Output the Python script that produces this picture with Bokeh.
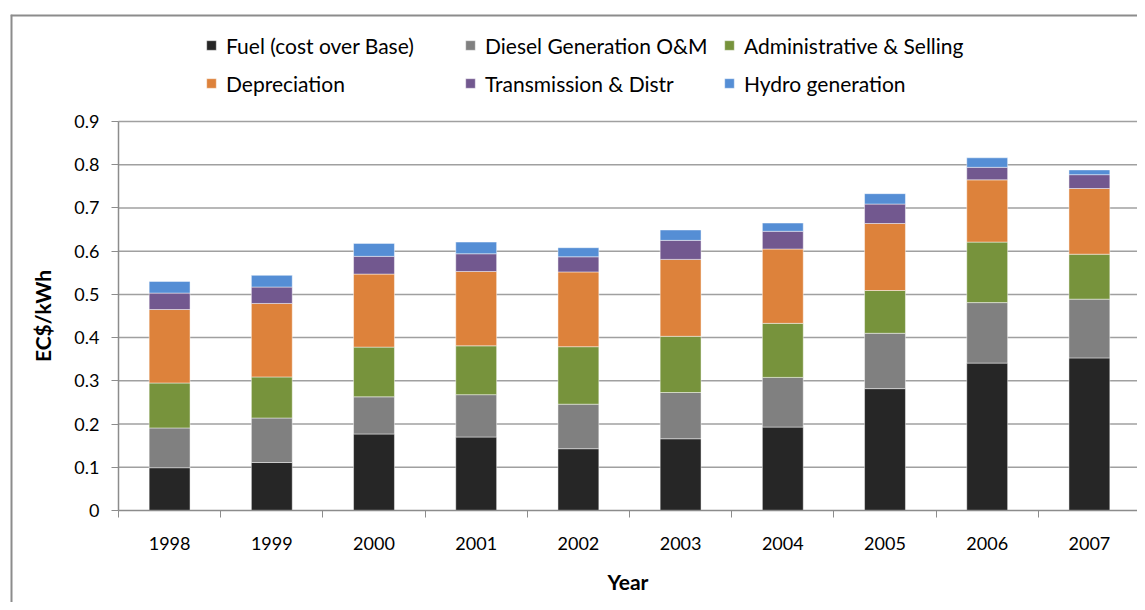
from bokeh.plotting import figure
from bokeh.models import Legend, LegendItem, FixedTicker, ColumnDataSource, Range1d, Span
from bokeh.embed import file_html
from bokeh.resources import INLINE

years = ["1998", "1999", "2000", "2001", "2002", "2003", "2004", "2005", "2006", "2007"]
fuel = [0.099, 0.111, 0.177, 0.170, 0.143, 0.166, 0.193, 0.282, 0.341, 0.353]
diesel = [0.092, 0.103, 0.086, 0.098, 0.103, 0.107, 0.115, 0.128, 0.140, 0.136]
admin = [0.104, 0.095, 0.115, 0.113, 0.133, 0.130, 0.125, 0.099, 0.140, 0.104]
depreciation = [0.170, 0.170, 0.169, 0.172, 0.173, 0.178, 0.172, 0.155, 0.144, 0.152]
transmission = [0.038, 0.038, 0.041, 0.041, 0.035, 0.044, 0.041, 0.045, 0.029, 0.032]
hydro = [0.027, 0.027, 0.030, 0.027, 0.021, 0.024, 0.019, 0.024, 0.022, 0.011]

series_names = ["Fuel (cost over Base)", "Diesel Generation O&M", "Administrative & Selling",
                "Depreciation", "Transmission & Distr", "Hydro generation"]
series_keys = ["fuel", "diesel", "admin", "depreciation", "transmission", "hydro"]
colors = ["#262626", "#808080", "#77933c", "#dd823b", "#72588f", "#558ed5"]
y_ticks = [round(i * 0.1, 1) for i in range(10)]
y_max = 0.9

FONT = "Lato"

# ---- layout (canvas pixels) ----
W, H = 1137, 602                 # canvas size
FL, FT = 10, 14                  # chart-area border (frame left/top)
PLOT_L, PLOT_R = 118, 1140       # plot area x
PLOT_T, PLOT_B = 121, 510        # plot area y
LEG_X, LEG_BOTTOM = 205, 102     # legend left / bottom
n = len(years)
px_per_x = (PLOT_R - PLOT_L) / n
px_per_y = (PLOT_B - PLOT_T) / y_max
x_start = -(PLOT_L - FL) / px_per_x
x_end = (W - PLOT_L) / px_per_x
y_start = -(H - PLOT_B) / px_per_y
y_end = y_max + (PLOT_T - FT) / px_per_y

x = [i + 0.5 for i in range(n)]
src = ColumnDataSource(dict(x=x, fuel=fuel, diesel=diesel, admin=admin,
                            depreciation=depreciation, transmission=transmission, hydro=hydro))

p = figure(width=W, height=H, x_range=Range1d(x_start, x_end), y_range=Range1d(y_start, y_end),
           output_backend="svg", toolbar_location=None,
           min_border_left=FL, min_border_top=FT, min_border_bottom=0, min_border_right=0)
p.outline_line_color = None
p.xgrid.visible = False
p.ygrid.visible = False

# chart-area border (top & left)
p.add_layout(Span(location=y_end, dimension="width", line_color="#8c8c8c", line_width=4))
p.add_layout(Span(location=x_start, dimension="height", line_color="#8c8c8c", line_width=4))

# horizontal gridlines across the plot area
p.segment(x0=0, x1=n, y0=y_ticks[1:], y1=y_ticks[1:], line_color="#a0a0a0", line_width=1.5)

rs = p.vbar_stack(series_keys, x="x", width=0.4, color=colors, line_color="white",
                  line_alpha=0.45, line_width=1, source=src)

items = [LegendItem(label=nm, renderers=[r]) for nm, r in zip(series_names, rs)]
legend = Legend(items=items, orientation="horizontal", ncols=3,
                location=(LEG_X - FL, H - LEG_BOTTOM),
                glyph_width=12, glyph_height=12, label_standoff=9, label_width=238,
                label_height=38, spacing=0, padding=0, margin=0,
                label_text_font=FONT, label_text_font_size="21px", label_text_color="#000000",
                background_fill_alpha=0, border_line_color=None)
p.add_layout(legend, "center")

# y axis
p.yaxis.fixed_location = 0
p.yaxis.bounds = (0, y_max)
p.yaxis.ticker = FixedTicker(ticks=y_ticks)
p.yaxis.major_label_overrides = {0: "0"}
p.yaxis.axis_label = "EC$/kWh"
p.yaxis.axis_label_text_font = FONT
p.yaxis.axis_label_text_font_size = "21px"
p.yaxis.axis_label_text_font_style = "bold"
p.yaxis.axis_label_standoff = 16
p.yaxis.major_label_text_font = FONT
p.yaxis.major_label_text_font_size = "18px"
p.yaxis.major_label_standoff = 12
p.yaxis.major_tick_in = 0
p.yaxis.major_tick_out = 7
p.yaxis.minor_tick_out = 0
p.yaxis.minor_tick_in = 0

# x axis
p.xaxis.fixed_location = 0
p.xaxis.bounds = (0, n)
p.xaxis.ticker = FixedTicker(ticks=x, minor_ticks=list(range(n + 1)))
p.xaxis.major_label_overrides = {xv: yl for xv, yl in zip(x, years)}
p.xaxis.axis_label = "Year"
p.xaxis.axis_label_text_font = FONT
p.xaxis.axis_label_text_font_size = "21px"
p.xaxis.axis_label_text_font_style = "bold"
p.xaxis.axis_label_standoff = 16
p.xaxis.major_label_text_font = FONT
p.xaxis.major_label_text_font_size = "18px"
p.xaxis.major_label_standoff = 19
p.xaxis.major_tick_in = 0
p.xaxis.major_tick_out = 0
p.xaxis.minor_tick_in = 0
p.xaxis.minor_tick_out = 7

for ax in (p.xaxis, p.yaxis):
    ax.axis_line_color = "#8c8c8c"
    ax.axis_line_width = 1.5
    ax.major_tick_line_color = "#8c8c8c"
    ax.minor_tick_line_color = "#8c8c8c"
    ax.major_label_text_color = "#000000"
    ax.axis_label_text_color = "#000000"

open("out.html", "w").write(file_html(p, INLINE))
